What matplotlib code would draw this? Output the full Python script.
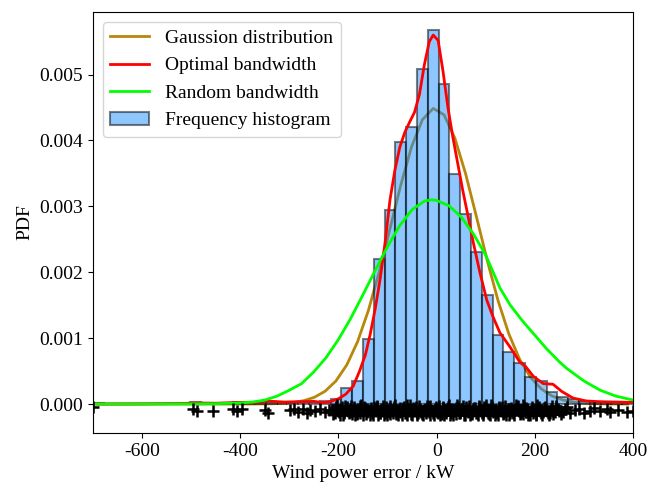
import matplotlib
matplotlib.use("Agg")
import matplotlib.pyplot as plt
import numpy as np

plt.rcParams['font.family'] = ['Liberation Serif', 'DejaVu Serif']
plt.rcParams['font.size'] = 14
plt.rcParams['axes.unicode_minus'] = False

# histogram, 50 bins from -700 to 400 kW
bin_edges = np.linspace(-700, 400, 51)
hist_pdf = [0.000015, 0, 0, 0, 0, 0, 0, 0, 0, 0.00003,
            0.000015, 0, 0.000015, 0.00003, 0, 0.000015, 0.000015, 0, 0.00003, 0.00003,
            0.00003, 0.00005, 0.00008, 0.00024, 0.00035, 0.00098, 0.0022, 0.00294, 0.00397, 0.0042,
            0.00508, 0.00567, 0.00486, 0.00349, 0.00289, 0.0023, 0.00166, 0.00105, 0.00079, 0.00063,
            0.00041, 0.00035, 0.00019, 0.00011, 0.00008, 0.00004, 0.00003, 0.00003, 0.000015, 0.000015]

# gaussian fit, sampled at bin centres
gauss_x = [-689, -667, -645, -623, -601, -579, -557, -535, -513, -491,
           -469, -447, -425, -403, -381, -359, -337, -315, -293, -271,
           -249, -227, -205, -183, -161, -139, -117, -95, -73, -51,
           -29, -7, 15, 37, 59, 81, 103, 125, 147, 169,
           191, 213, 235, 257, 279, 301, 323, 345, 367, 389]
gauss_y = [0, 0, 0, 0, 0, 0, 0, 0, 0, 0,
           0, 0, 0, 0.0000002, 0.0000006, 0.0000016, 0.000004, 0.00001, 0.000023, 0.00005,
           0.000102, 0.000195, 0.000351, 0.000594, 0.000947, 0.001421, 0.002005, 0.002662, 0.003325, 0.003906,
           0.004316, 0.004487, 0.00439, 0.004037, 0.003495, 0.002845, 0.00218, 0.001571, 0.001065, 0.000679,
           0.000407, 0.00023, 0.000122, 0.000061, 0.0000286, 0.0000127, 0.0000052, 0.000002, 0.0000008, 0.0000003]

# kde with optimal bandwidth
opt_x = [-700, -600, -520, -490, -450, -410, -380, -345, -310, -280,
         -250, -230, -215, -200, -185, -170, -157, -145, -135, -125,
         -115, -105, -95, -85, -75, -65, -55, -45, -35, -25,
         -15, -7, 3, 13, 23, 33, 43, 53, 64, 75,
         88, 102, 115, 129, 149, 170, 180, 197, 217, 237,
         255, 278, 305, 333, 365, 400]
opt_y = [0.0, 0.000002, 0.000008, 0.000015, 0.000012, 0.000022, 0.00002, 0.000045, 0.00003, 0.000035,
         0.00004, 0.00002, 0.00004, 0.00008, 0.00015, 0.00027, 0.0005, 0.00075, 0.00107, 0.00145,
         0.0019, 0.00245, 0.0031, 0.00355, 0.0039, 0.00412, 0.00428, 0.00443, 0.0047, 0.00515,
         0.0055, 0.0056, 0.00552, 0.00505, 0.0045, 0.00405, 0.00365, 0.00325, 0.00285, 0.00244,
         0.002, 0.00158, 0.00132, 0.00108, 0.00087, 0.00063, 0.00058, 0.00042, 0.00031, 0.0003,
         0.00019, 0.00009, 0.000046, 0.000035, 0.00003, 0.000026]

# kde with random bandwidth
rnd_x = [-700, -600, -500, -450, -400, -375, -350, -325, -300, -275,
         -250, -225, -200, -175, -150, -125, -100, -75, -50, -25,
         -10, 0, 25, 50, 75, 100, 129, 150, 175, 197,
         225, 250, 265, 300, 333, 365, 400]
rnd_y = [0.0, 0.0000005, 0.000002, 0.000005, 0.000015, 0.00003, 0.00006, 0.00012, 0.00021, 0.00031,
         0.00049, 0.000706, 0.00098, 0.0013, 0.00166, 0.00203, 0.00239, 0.00271, 0.00295, 0.00308,
         0.0031, 0.00309, 0.00301, 0.00284, 0.00258, 0.00226, 0.00176, 0.0015, 0.00126, 0.00107,
         0.00083, 0.00064, 0.00054, 0.00035, 0.00021, 0.00012, 0.00006]

# rug of samples: (error in kW, vertical jitter in 1e-5)
rug_points = [(-700, -5), (-496, -8), (-489, -11), (-455, -10), (-414, -8), (-406, -11),
              (-397, -8), (-350, -9), (-343, -14), (-299, -9), (-290, -7), (-282, -12),
              (-272, -8), (-264, -13), (-258, -9), (-248, -11), (-238, -7), (-228, -12),
              (-220, -9), (-213, -9), (-208, -14), (-204, -4), (-199, -12), (-195, -7),
              (-190, -16), (-186, -3), (-181, -11), (-177, -8), (-172, -15), (-168, -5),
              (-163, -13), (-159, -10), (-154, -2), (-150, -17), (-146, -6), (-141, -12),
              (-137, -9), (-132, -14), (-128, -4), (-123, -11), (-119, -16), (-114, -7),
              (-110, -3), (-105, -13), (-101, -8), (-96, -15), (-92, -10), (-87, -5),
              (-83, -12), (-78, -17), (-74, -6), (-69, -9), (-65, -14), (-60, -2),
              (-56, -11), (-51, -16), (-47, -8), (-42, -4), (-38, -13), (-33, -10),
              (-29, -15), (-24, -7), (-20, -3), (-15, -12), (-11, -9), (-6, -17),
              (-2, -5), (3, -14), (7, -11), (12, -6), (16, -16), (21, -8),
              (25, -2), (30, -13), (34, -10), (39, -15), (43, -4), (48, -12),
              (52, -7), (57, -17), (61, -9), (66, -3), (70, -14), (75, -11),
              (79, -6), (84, -16), (88, -8), (93, -13), (97, -5), (102, -10),
              (106, -15), (111, -2), (115, -12), (120, -9), (124, -17), (129, -7),
              (133, -4), (138, -14), (142, -11), (147, -16), (151, -6), (156, -13),
              (160, -8), (165, -3), (169, -15), (174, -10), (178, -5), (183, -12),
              (187, -17), (192, -9), (196, -14), (201, -7), (205, -2), (210, -11),
              (215, -16), (221, -4), (226, -13), (232, -8), (238, -15), (244, -6),
              (250, -10), (258, -12), (265, -5), (272, -14), (281, -9), (290, -7),
              (300, -13), (312, -10), (320, -6), (333, -11), (346, -8), (353, -12),
              (370, -9), (387, -12), (399, -10),
              (-211, -15), (-206, -6), (-201, -10), (-197, -17), (-192, -4), (-188, -12),
              (-183, -8), (-179, -14), (-174, -3), (-170, -11), (-166, -16), (-161, -7),
              (-157, -13), (-152, -9), (-148, -4), (-143, -15), (-139, -11), (-134, -6),
              (-130, -16), (-125, -8), (-121, -3), (-116, -13), (-112, -10), (-107, -17),
              (-103, -5), (-98, -12), (-94, -7), (-89, -14), (-85, -2), (-80, -11),
              (-76, -9), (-71, -16), (-67, -4), (-62, -13), (-58, -8), (-53, -15),
              (-49, -6), (-44, -11), (-40, -17), (-35, -3), (-31, -12), (-26, -9),
              (-22, -14), (-17, -5), (-13, -16), (-8, -10), (-4, -7), (1, -12),
              (5, -3), (10, -15), (14, -9), (19, -13), (23, -5), (28, -17),
              (32, -7), (37, -11), (41, -2), (46, -14), (50, -8), (55, -16),
              (59, -4), (64, -12), (68, -10), (73, -15), (77, -6), (82, -13),
              (86, -3), (91, -11), (95, -16), (100, -7), (104, -14), (109, -9),
              (113, -4), (118, -17), (122, -12), (127, -6), (131, -10), (136, -15),
              (140, -3), (145, -8), (149, -13), (154, -11), (158, -16), (163, -5),
              (167, -9), (172, -14), (176, -2), (181, -12), (185, -7), (190, -16),
              (194, -4), (199, -11), (203, -15), (208, -8), (213, -13), (218, -6),
              (224, -10), (229, -16), (235, -3), (241, -12), (247, -8),
              (-209, -12), (-203, -2), (-196, -9), (-189, -14), (-182, -5), (-176, -12),
              (-169, -8), (-162, -15), (-156, -3), (-149, -11), (-142, -7), (-136, -16),
              (-129, -10), (-122, -5), (-115, -14), (-109, -8), (-102, -17), (-95, -3),
              (-88, -9), (-82, -15), (-75, -12), (-68, -6), (-61, -16), (-55, -2),
              (-48, -10), (-41, -14), (-34, -7), (-28, -17), (-21, -11), (-14, -3),
              (-7, -13), (0, -8), (6, -16), (13, -4), (20, -11), (27, -9),
              (33, -16), (40, -6), (47, -13), (54, -3), (60, -11), (67, -17),
              (74, -8), (81, -14), (87, -5), (94, -12), (101, -2), (108, -16),
              (114, -9), (121, -14), (128, -4), (135, -11), (141, -17), (148, -7),
              (155, -12), (162, -2), (168, -10), (175, -15), (182, -6), (189, -13),
              (195, -9), (202, -16), (209, -4), (216, -12), (223, -8), (230, -14),
              (236, -10), (243, -3), (254, -15), (262, -8)]

fig = plt.figure(figsize=(6.47, 4.92), dpi=100)
ax = fig.add_axes([0.1437, 0.1199, 0.8347, 0.8557])

ax.plot(gauss_x, gauss_y, color='darkgoldenrod', lw=2, zorder=0.9,
        label='Gaussion distribution')
ax.bar(bin_edges[:-1], hist_pdf, width=np.diff(bin_edges), align='edge',
       color='dodgerblue', edgecolor='black', linewidth=1.5, alpha=0.5,
       zorder=1, label='Frequency histogram')
ax.plot(opt_x, opt_y, color='red', lw=2, zorder=2, label='Optimal bandwidth')
ax.plot(rnd_x, rnd_y, color='lime', lw=2, zorder=2, label='Random bandwidth')

rug = np.array(rug_points, dtype=float)
ax.plot(rug[:, 0], rug[:, 1] * 1e-5, '+', color='black', ms=8.5, mew=1.8, zorder=2)

ax.set_xlim(-700, 400)
ax.set_ylim(-0.00044, 0.00595)
ax.set_xticks([-600, -400, -200, 0, 200, 400])
ax.set_xlabel('Wind power error / kW')
ax.set_ylabel('PDF')
ax.legend(loc='upper left')

fig.savefig('out.png', dpi=100)
